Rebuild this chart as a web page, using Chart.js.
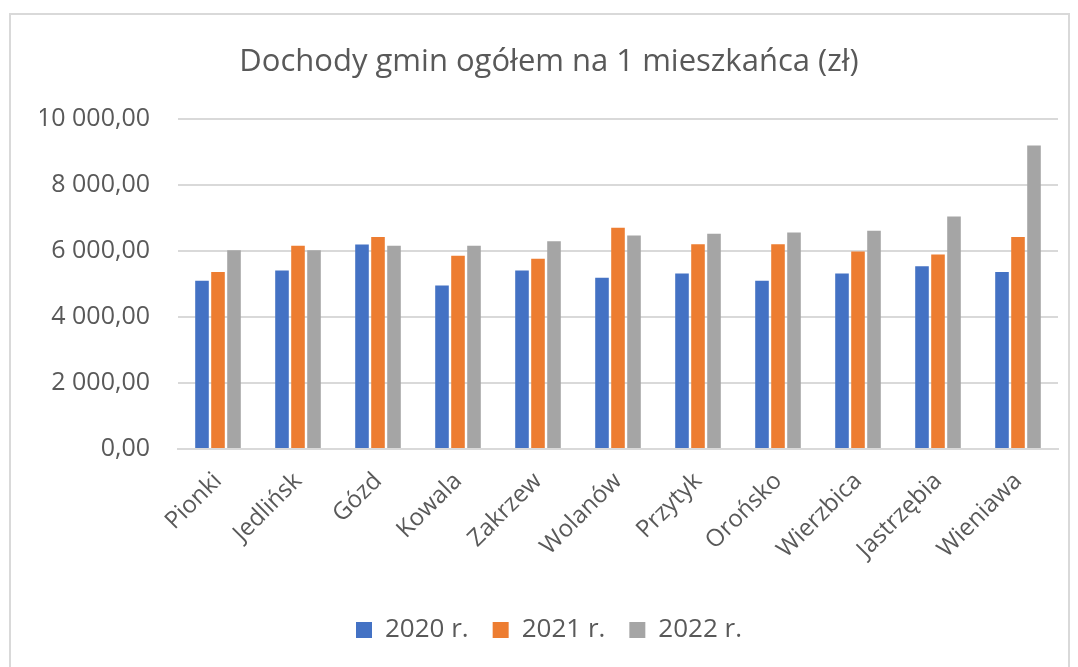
<!DOCTYPE html>
<html>
<head>
<meta charset="utf-8">
<script src="https://cdn.jsdelivr.net/npm/chart.js@4.4.0/dist/chart.umd.min.js"></script>
<style>
    body { margin: 0; background: #fff; }
    #frame { position: absolute; left: 9px; top: 13px; width: 1057px; height: 700px; border: 2px solid #d9d9d9; }
    #chart { position: absolute; left: 0; top: 0; }
</style>
</head>
<body>
<div id="frame"></div>
<canvas id="chart" width="1078" height="667"></canvas>
<script>
// Dochody gmin ogółem na 1 mieszkańca (zł)
const gminy = ['Pionki', 'Jedlińsk', 'Gózd', 'Kowala', 'Zakrzew', 'Wolanów', 'Przytyk', 'Orońsko', 'Wierzbica', 'Jastrzębia', 'Wieniawa'];
const lata = ['2020 r.', '2021 r.', '2022 r.'];
const dochody2020 = [5100, 5415, 6200, 4960, 5415, 5190, 5325, 5100, 5325, 5545, 5365];
const dochody2021 = [5365, 6160, 6430, 5860, 5770, 6705, 6210, 6210, 5990, 5900, 6430];
const dochody2022 = [6030, 6030, 6160, 6160, 6300, 6475, 6525, 6565, 6615, 7050, 9200];
const kolory = ['#4472C4', '#ED7D31', '#A5A5A5'];

const textColor = '#595959';
const fontFamily = '"Open Sans", "Noto Sans", sans-serif';

function formatPl(v) {
    const parts = v.toFixed(2).split('.');
    const grouped = parts[0].replace(/\B(?=(\d{3})+(?!\d))/g, ' ');
    return grouped + ',' + parts[1];
}

const series = [dochody2020, dochody2021, dochody2022];

new Chart(document.getElementById('chart'), {
    type: 'bar',
    data: {
        labels: gminy,
        datasets: series.map((values, i) => ({
            label: lata[i],
            data: values,
            backgroundColor: kolory[i],
            borderWidth: 0,
            categoryPercentage: 0.6,
            barPercentage: 0.85
        }))
    },
    options: {
        responsive: false,
        devicePixelRatio: 1,
        animation: false,
        layout: {
            padding: { top: 44, left: 40, right: 20, bottom: 14 }
        },
        scales: {
            x: {
                grid: { display: false },
                border: { color: '#d9d9d9', width: 2 },
                afterFit: (scale) => { scale.height = 144; },
                ticks: {
                    color: textColor,
                    font: { family: fontFamily, size: 24 },
                    minRotation: 45,
                    maxRotation: 45,
                    padding: 10
                }
            },
            y: {
                min: 0,
                max: 10000,
                grid: { color: '#d9d9d9', lineWidth: 2, drawTicks: false },
                border: { display: false },
                afterFit: (scale) => { scale.width = 138; },
                ticks: {
                    stepSize: 2000,
                    color: textColor,
                    font: { family: fontFamily, size: 25 },
                    padding: 28,
                    callback: (value) => formatPl(value)
                }
            }
        },
        plugins: {
            title: {
                display: true,
                text: 'Dochody gmin ogółem na 1 mieszkańca (zł)',
                color: textColor,
                font: { family: fontFamily, size: 31, weight: 'normal' },
                padding: { top: 0, bottom: 38 }
            },
            legend: {
                position: 'bottom',
                labels: {
                    color: textColor,
                    font: { family: fontFamily, size: 26 },
                    boxWidth: 16,
                    boxHeight: 16,
                    padding: 24
                }
            },
            tooltip: { enabled: false }
        }
    }
});
</script>
</body>
</html>
